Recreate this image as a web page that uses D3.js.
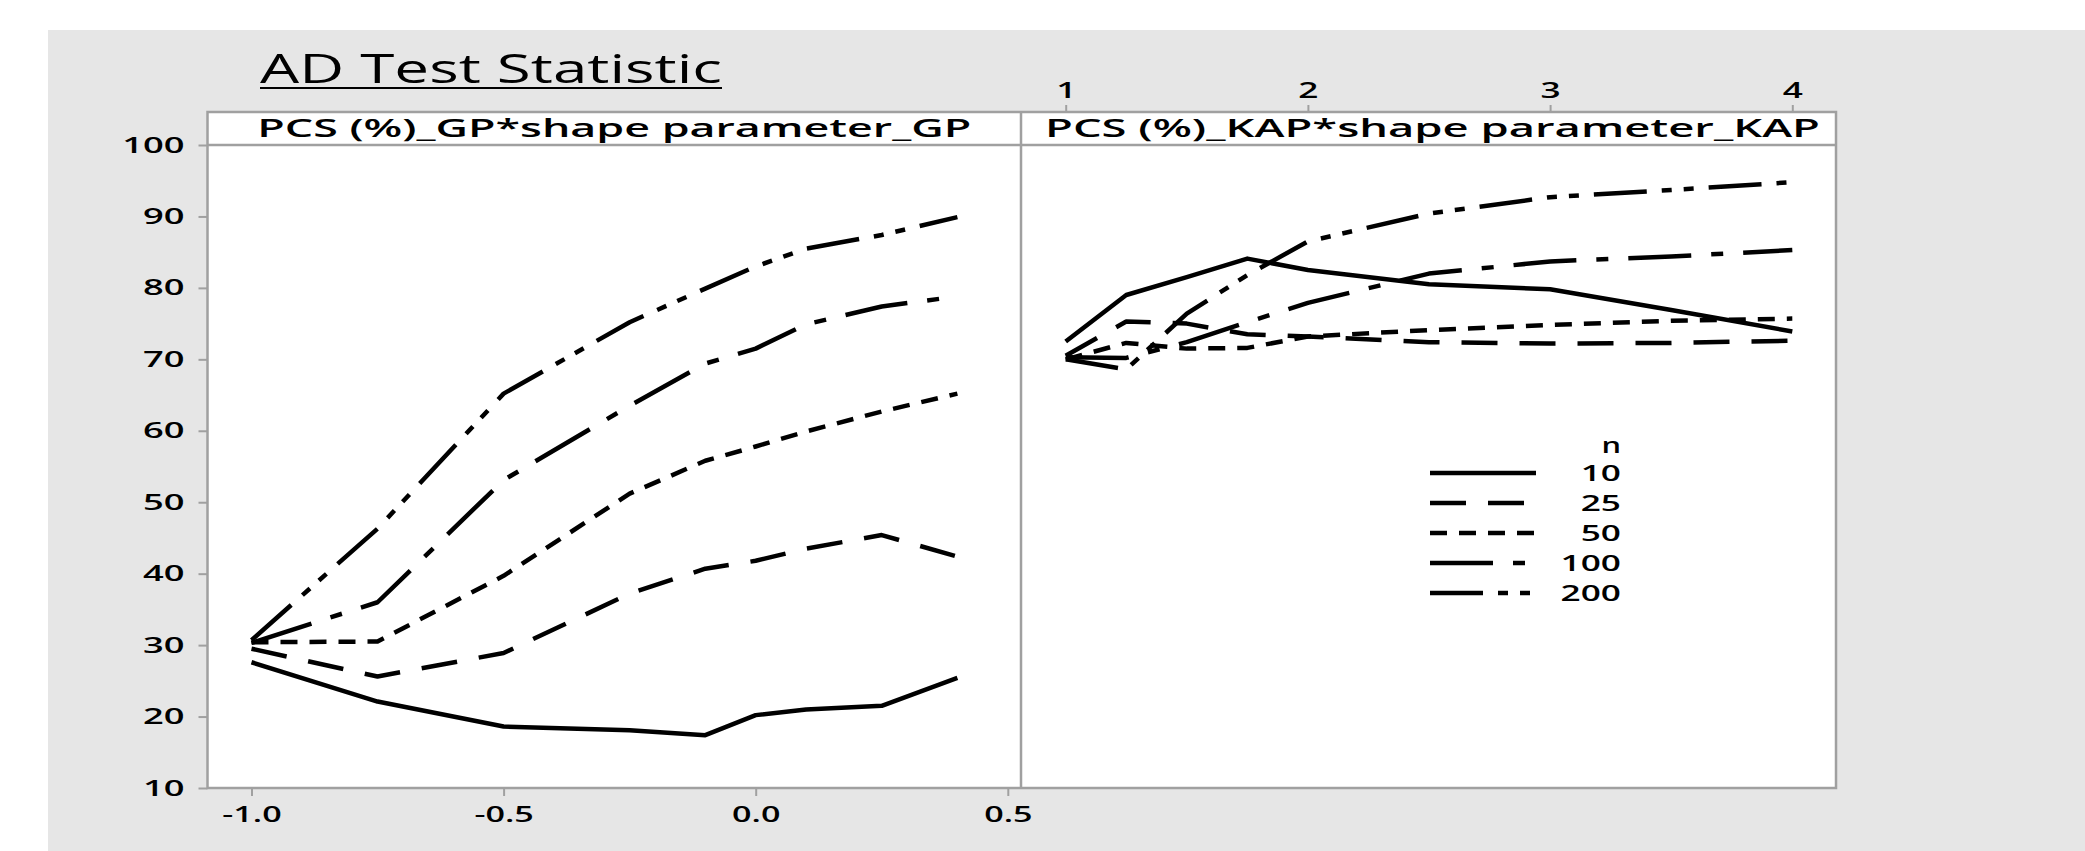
<html>
<head>
<script src="https://d3js.org/d3.v7.min.js"></script>
<style>
    body{ margin:0; background:#ffffff; }
    text{ font-family:"Open Sans", "Noto Sans", sans-serif; fill:#000; }
    .axis .domain{ display:none; }
    .axis line{ stroke:#a0a0a0; stroke-width:2; }
    .axis text{ font-size:22px; font-weight:600; }
    .strip-label{ font-size:25px; font-weight:600; }
    .legend-text{ font-size:22px; font-weight:600; }
</style>
</head>
<body>
<svg id="ad-plot" width="2085" height="851"></svg>
<script>
// shape parameter values (x) for each panel
const gpShape  = [-1, -0.75, -0.5, -0.25, -0.1, 0, 0.1, 0.25, 0.4];
const kapShape = [1, 1.25, 1.5, 1.75, 2, 2.5, 3, 3.5, 4];

// sample sizes (legend)
const sampleSizes = ["10", "25", "50", "100", "200"];

// PCS (%)
const gpN10  = [27.6, 22.1, 18.6, 18.1, 17.4, 20.2, 21.0, 21.5, 25.4];
const gpN25  = [29.5, 25.6, 28.9, 37.2, 40.7, 41.8, 43.5, 45.4, 42.4];
const gpN50  = [30.4, 30.5, 39.7, 51.2, 55.8, 57.8, 59.9, 62.7, 65.2];
const gpN100 = [30.3, 36.0, 53.1, 63.5, 69.4, 71.5, 74.9, 77.4, 78.8];
const gpN200 = [30.7, 46.3, 65.2, 75.2, 79.9, 83.0, 85.5, 87.4, 89.9];

// PCS (%)
const kapN10  = [72.5, 79.0, 81.5, 84.1, 82.5, 80.5, 79.8, 76.9, 73.9];
const kapN25  = [70.5, 75.3, 75.0, 73.5, 73.2, 72.4, 72.2, 72.3, 72.6];
const kapN50  = [70.0, 72.3, 71.5, 71.6, 73.2, 74.1, 74.8, 75.4, 75.7];
const kapN100 = [70.3, 70.2, 72.4, 75.2, 77.9, 82.0, 83.7, 84.4, 85.3];
const kapN200 = [70.0, 68.6, 76.4, 81.8, 86.5, 90.4, 92.7, 93.7, 94.8];

// tick values
const yTicks   = [10, 20, 30, 40, 50, 60, 70, 80, 90, 100];
const gpTicks  = [-1.0, -0.5, 0.0, 0.5];
const kapTicks = [1, 2, 3, 4];

const gpSeries  = [gpN10, gpN25, gpN50, gpN100, gpN200];
const kapSeries = [kapN10, kapN25, kapN50, kapN100, kapN200];

// line styles per sample size
const dashes = ["none", "36,22", "17,12", "63,20,12,20", "53,15,10,12,10,15"];

const svg = d3.select("svg#ad-plot");
const box = {left:207.5, right:1836, top:112, strip:145, bottom:788, split:1021};

// grey page background
svg.append("rect")
    .attr("x", 48).attr("y", 30)
    .attr("width", 2085 - 48).attr("height", 851 - 30)
    .attr("fill", "#e6e6e6");

// title
svg.append("text")
    .attr("x", 260).attr("y", 83)
    .attr("font-size", 40)
    .attr("textLength", 462).attr("lengthAdjust", "spacingAndGlyphs")
    .text("AD Test Statistic");
svg.append("line")
    .attr("x1", 260).attr("x2", 722).attr("y1", 88).attr("y2", 88)
    .attr("stroke", "#000").attr("stroke-width", 2);

// plot frame
svg.append("rect")
    .attr("x", box.left).attr("y", box.top)
    .attr("width", box.right - box.left).attr("height", box.bottom - box.top)
    .attr("fill", "#fff").attr("stroke", "#a0a0a0").attr("stroke-width", 2.5);
svg.append("line")
    .attr("x1", box.left).attr("x2", box.right).attr("y1", box.strip).attr("y2", box.strip)
    .attr("stroke", "#a0a0a0").attr("stroke-width", 2.5);
svg.append("line")
    .attr("x1", box.split).attr("x2", box.split).attr("y1", box.top).attr("y2", box.bottom)
    .attr("stroke", "#a0a0a0").attr("stroke-width", 2.5);

// scales
const yScale   = d3.scaleLinear().domain([10, 100]).range([box.bottom, box.strip]);
const gpScale  = d3.scaleLinear().domain([-1, 0.5]).range([251.5, 1007.8]);
const kapScale = d3.scaleLinear().domain([1, 4]).range([1065.7, 1792.3]);

// stretch tick labels horizontally like the original
function widen(sel, factor){
    sel.each(function(){
        const w = this.getComputedTextLength();
        d3.select(this).attr("textLength", w * factor).attr("lengthAdjust", "spacingAndGlyphs");
    });
}

// y axis
const yAxis = svg.append("g").attr("class", "axis")
    .attr("transform", `translate(${box.left},0)`)
    .call(d3.axisLeft(yScale).tickValues(yTicks).tickSize(9).tickPadding(14));
widen(yAxis.selectAll("text"), 1.65);

// bottom axis (GP)
const gpAxis = svg.append("g").attr("class", "axis")
    .attr("transform", `translate(0,${box.bottom})`)
    .call(d3.axisBottom(gpScale).tickValues(gpTicks).tickSize(8).tickPadding(10)
        .tickFormat(d => d3.format(".1f")(d).replace("−", "-")));
widen(gpAxis.selectAll("text"), 1.55);

// top axis (KAP)
const kapAxis = svg.append("g").attr("class", "axis")
    .attr("transform", `translate(0,${box.top})`)
    .call(d3.axisTop(kapScale).tickValues(kapTicks).tickSize(7).tickPadding(7)
        .tickFormat(d3.format("d")));
widen(kapAxis.selectAll("text"), 1.6);

// strip labels
svg.append("text").attr("class", "strip-label")
    .attr("x", (box.left + box.split) / 2).attr("y", 137)
    .attr("text-anchor", "middle")
    .attr("textLength", 714).attr("lengthAdjust", "spacingAndGlyphs")
    .text("PCS (%)_GP*shape parameter_GP");
svg.append("text").attr("class", "strip-label")
    .attr("x", (box.split + box.right) / 2 + 4).attr("y", 137)
    .attr("text-anchor", "middle")
    .attr("textLength", 775).attr("lengthAdjust", "spacingAndGlyphs")
    .text("PCS (%)_KAP*shape parameter_KAP");

// lines
function drawPanel(xs, series, xScale){
    const lineGen = d3.line()
        .x((d, i) => xScale(xs[i]))
        .y(d => yScale(d));
    series.forEach((vals, i) => {
        svg.append("path")
            .datum(vals)
            .attr("fill", "none")
            .attr("stroke", "#000")
            .attr("stroke-width", 4.5)
            .attr("stroke-linejoin", "round")
            .attr("stroke-dasharray", dashes[i])
            .attr("d", lineGen);
    });
}
drawPanel(gpShape, gpSeries, gpScale);
drawPanel(kapShape, kapSeries, kapScale);

// legend
const legend = svg.append("g").attr("transform", "translate(1430,473)");
const legendGap = 30;
const nLabel = legend.append("text").attr("class", "legend-text")
    .attr("x", 191).attr("y", -28 + 8)
    .attr("text-anchor", "end")
    .text("n");
widen(nLabel, 1.4);
sampleSizes.forEach((s, i) => {
    legend.append("line")
        .attr("x1", 0).attr("x2", 106)
        .attr("y1", i * legendGap).attr("y2", i * legendGap)
        .attr("stroke", "#000").attr("stroke-width", 4.5)
        .attr("stroke-dasharray", dashes[i]);
    const t = legend.append("text").attr("class", "legend-text")
        .attr("x", 191).attr("y", i * legendGap + 8)
        .attr("text-anchor", "end")
        .text(s);
    widen(t, 1.6);
});
</script>
</body>
</html>
